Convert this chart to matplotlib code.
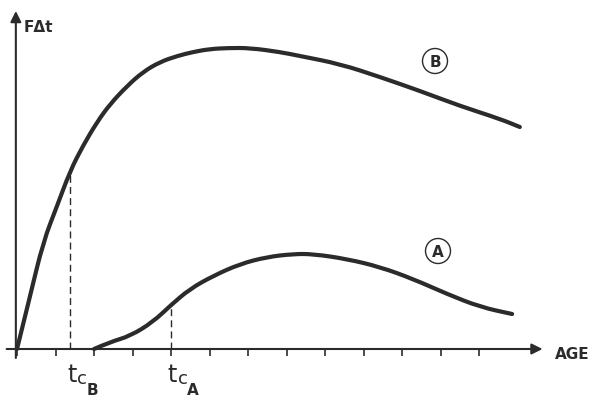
import matplotlib
matplotlib.use("Agg")
import matplotlib.pyplot as plt
from matplotlib.patches import Ellipse, PathPatch
from matplotlib.path import Path

# ---- data (x in tick units, y in arbitrary units) ----
age_B = [0.0, 0.34, 0.68, 1.04, 1.38, 1.71, 2.08, 2.42, 2.86, 3.27, 3.71, 4.16,
         4.57, 5.01, 5.50, 6.05, 6.83, 7.35, 8.39, 9.43, 10.47, 11.51, 12.55, 13.06]
fdt_B = [0.0, 5.3, 10.7, 14.3, 17.8, 20.3, 22.7, 24.5, 26.3, 27.7, 28.7, 29.3,
         29.7, 30.0, 30.1, 30.1, 29.7, 29.3, 28.5, 27.2, 25.8, 24.3, 23.0, 22.2]

age_A = [2.0, 2.42, 2.94, 3.53, 4.0, 4.49, 5.09, 5.79, 6.49, 7.17, 7.69, 8.57,
         9.43, 10.29, 11.17, 12.03, 12.86]
fdt_A = [0.0, 0.7, 1.3, 2.7, 4.4, 6.0, 7.3, 8.5, 9.2, 9.5, 9.5, 9.0,
         8.2, 7.0, 5.5, 4.2, 3.5]

tc_B = 1.38
tc_B_val = 17.8
tc_A = 4.0
tc_A_val = 4.4

x_ticks = list(range(0, 13))

y_label = "FΔt"
x_label = "AGE"

ink = "#2b2b2b"
font = ["DejaVu Sans"]

fig = plt.figure(figsize=(6.0, 4.1), dpi=100)
ax = fig.add_axes([0, 0, 1, 1])
ax.set_xlim(-17 / 38.5, (600 - 17) / 38.5)
ax.set_ylim(-6.0, 35.0)
ax.axis("off")


def smooth_curve(xs, ys):
    """Quadratic Bezier path through midpoints, using the read points as controls."""
    pts = list(zip(xs, ys))
    verts = [pts[0]]
    codes = [Path.MOVETO]
    for i in range(1, len(pts) - 1):
        mid = ((pts[i][0] + pts[i + 1][0]) / 2, (pts[i][1] + pts[i + 1][1]) / 2)
        verts += [pts[i], mid]
        codes += [Path.CURVE3, Path.CURVE3]
    verts.append(pts[-1])
    codes.append(Path.LINETO)
    return Path(verts, codes)


# axes with arrows
ax.annotate("", xy=(13.65, 0), xytext=(-0.27, 0),
            arrowprops=dict(arrowstyle="-|>", lw=1.5, color=ink,
                            mutation_scale=16, shrinkA=0, shrinkB=0))
ax.annotate("", xy=(-0.03, 33.8), xytext=(-0.03, -0.9),
            arrowprops=dict(arrowstyle="-|>", lw=1.5, color=ink,
                            mutation_scale=16, shrinkA=0, shrinkB=0))

# tick marks
for t in x_ticks:
    ax.plot([t, t], [0, -0.7], color=ink, lw=1.2, solid_capstyle="butt")

# dashed guide lines
ax.plot([tc_B, tc_B], [0, tc_B_val], color=ink, lw=1.0, ls=(0, (5, 3)))
ax.plot([tc_A, tc_A], [0, tc_A_val], color=ink, lw=1.0, ls=(0, (5, 3)))

# curves
for xs, ys in [(age_B, fdt_B), (age_A, fdt_A)]:
    ax.add_patch(PathPatch(smooth_curve(xs, ys), fill=False, edgecolor=ink,
                           lw=3.0, capstyle="round", joinstyle="round"))

# axis labels
ax.text(0.18, 32.2, y_label, fontsize=11, fontweight="bold", family=font,
        color=ink, ha="left", va="center")
ax.text(13.98, -0.45, x_label, fontsize=11, fontweight="bold", family=font,
        color=ink, ha="left", va="center")

# t_c labels
def tc_label(x, sub):
    ax.text(x + 0.04, -2.5, "t", fontsize=17, family=font, color=ink,
            ha="center", va="center")
    ax.text(x + 0.31, -2.95, "c", fontsize=13, family=font, color=ink,
            ha="center", va="center")
    ax.text(x + 0.57, -4.1, sub, fontsize=11, fontweight="bold", family=font,
            color=ink, ha="center", va="center")

tc_label(tc_B, "B")
tc_label(tc_A, "A")

# circled curve names
for (cx, cy, lab) in [((435 - 17) / 38.5, (350 - 62) / 10.0, "B"),
                      ((438 - 17) / 38.5, (350 - 252) / 10.0, "A")]:
    ax.add_patch(Ellipse((cx, cy), width=25 / 38.5, height=2.5, fill=False,
                         edgecolor=ink, lw=1.0))
    ax.text(cx, cy - 0.05, lab, fontsize=11, fontweight="bold", family=font,
            color=ink, ha="center", va="center")

fig.savefig("out.png", dpi=100, facecolor="white")
